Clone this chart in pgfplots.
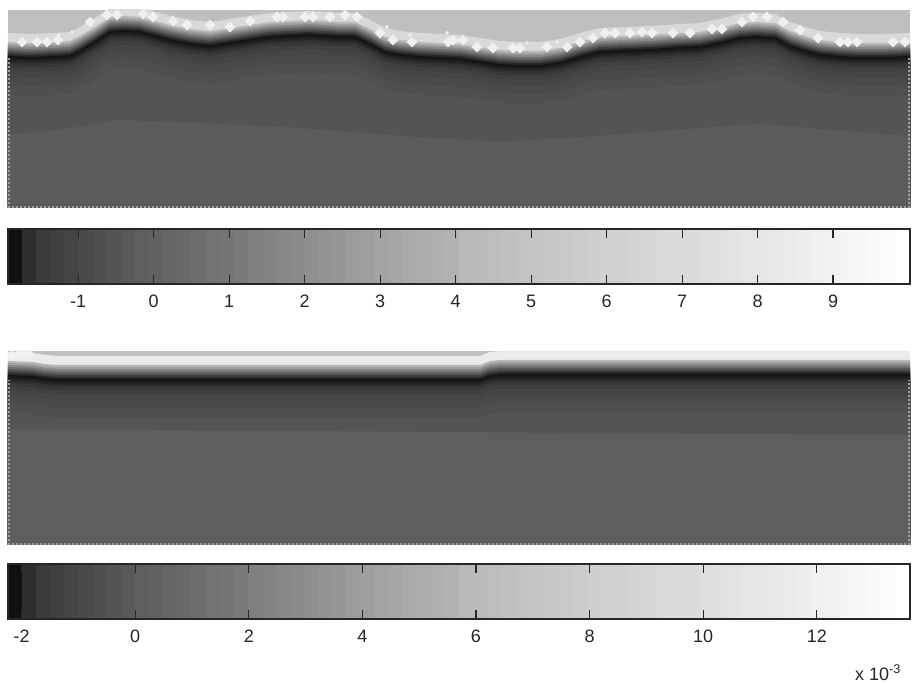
\documentclass[border=0pt]{standalone}
\usepackage{pgfplots}
\usepackage{pgfplotstable}
\usepackage{fontspec}
\setmainfont{Liberation Sans}
\pgfplotsset{compat=1.18}
% darkest ridge line of the upper field: x pixel, height above the field's bottom
\pgfplotstableread{
x R
8 151
30 150
55 151
70 152
80 157
95 166
110 176
125 177
140 176
155 172
170 168
190 164
210 162
230 165
250 168
270 171
290 172
310 173
340 171
355 171
370 164
385 156
400 153
420 151
440 150
460 149
480 146
500 143
520 142
540 142
560 145
580 151
600 156
625 157
650 158
680 160
700 161
720 165
740 170
755 171
775 170
790 162
805 157
820 153
840 151
860 150
880 150
910 151
}\ridgeA
% ridge of the lower field
\pgfplotstableread{
x R
8 169
33 168
45 166
60 165
480 165
490 169
500 170
910 170
}\ridgeB
% deep contours
\pgfplotstableread{
x R
8 73
60 78
120 88
200 85
300 80
400 72
500 66
600 72
700 80
760 84
830 78
910 72
}\deepA
\pgfplotstableread{
x R
8 116
300 114
600 112
910 110
}\deepB
% bright blobs of the upper field
\pgfplotstableread{
x h
22 166
37 166
47 166
58 168
90 186
107 193
117 193
143 194
153 191
173 187
187 183
210 183
230 181
250 187
277 191
283 191
305 191
313 191
330 191
345 193
357 191
380 175
393 168
412 166
448 166
453 168
463 168
477 161
493 160
513 160
520 160
547 161
567 161
580 166
593 170
605 175
615 175
630 175
642 176
652 175
673 175
690 175
712 179
722 179
742 186
753 191
767 191
783 186
800 178
818 170
840 166
848 166
857 166
893 166
905 166
}\blobsA
\pgfplotstableread{
x h
59 173
72 176
387 181
410 173
447 175
527 165
557 166
}\dotsA
\pgfplotstableread{
x h
12 189
18 190
24 191
30 190
}\blobsB
\newcommand\band[3]{\addplot[draw=none,fill=white!#2!black,yshift=#1pt,forget plot] table[x=x,y=R]{#3} \closedcycle;}
\newcommand\layers[2]{%
  \band{24}{#2}{#1}\band{15}{72}{#1}\band{13}{63}{#1}\band{11}{53}{#1}\band{9}{44}{#1}%
  \band{7}{35}{#1}\band{5}{26}{#1}\band{3}{16}{#1}\band{1}{8}{#1}\band{-1}{11}{#1}%
  \band{-3}{15}{#1}\band{-5}{19}{#1}\band{-7}{22}{#1}\band{-10}{25}{#1}\band{-14}{27}{#1}\band{-20}{29}{#1}\band{-28}{31}{#1}\band{-38}{33}{#1}}
% one colour step of the colour bars: index, grey percentage
\newcommand\s[2]{\addplot[draw=none,fill=white!#2!black,forget plot] coordinates {(#1,1)(64,1)} \closedcycle;}
\newcommand\steps{%
\s{0}{6}\s{1}{18}\s{2}{23}\s{3}{25}\s{4}{27}\s{5}{29}\s{6}{31}\s{7}{33}\s{8}{35}\s{9}{37}%
\s{10}{38}\s{11}{40}\s{12}{41}\s{13}{43}\s{14}{45}\s{15}{46}\s{16}{48}\s{17}{50}\s{18}{51}\s{19}{53}%
\s{20}{54}\s{21}{56}\s{22}{58}\s{23}{59}\s{24}{61}\s{25}{62}\s{26}{64}\s{27}{65}\s{28}{67}\s{29}{68}%
\s{30}{69}\s{31}{70}\s{32}{72}\s{33}{73}\s{34}{74}\s{35}{75}\s{36}{76}\s{37}{77}\s{38}{78}\s{39}{79}%
\s{40}{80}\s{41}{81}\s{42}{82}\s{43}{82}\s{44}{83}\s{45}{84}\s{46}{85}\s{47}{86}\s{48}{86}\s{49}{87}%
\s{50}{88}\s{51}{89}\s{52}{90}\s{53}{90}\s{54}{91}\s{55}{92}\s{56}{93}\s{57}{94}\s{58}{95}\s{59}{96}%
\s{60}{97}\s{61}{98}\s{62}{99}\s{63}{100}}
\pgfplotsset{
  field/.style={scale only axis,width=902pt,axis lines=none,xmin=8,xmax=910,ymin=0,
    axis background/.style={fill=white!75!black},clip=true},
  cbar/.style={scale only axis,width=902pt,height=55pt,xmin=0,xmax=64,ymin=0,ymax=1,axis lines=none},
  cticks/.style={scale only axis,width=902pt,height=55pt,ymin=0,ymax=1,ytick=\empty,
    axis line style={draw=white!15!black,line width=1.1pt},
    xtick pos=both,tick align=inside,major tick length=9pt,
    tick style={draw=white!15!black,line width=1.1pt},
    tick label style={font=\fontsize{18}{20}\selectfont,text=white!15!black},
    typeset ticklabels with strut,
    xticklabel pos=bottom,
    x tick label style={yshift=-6pt},
    /pgf/number format/assume math mode=true,
    scaled x ticks=false},
  edge/.style={draw=white!62!black,line width=1.2pt,dash pattern=on 2pt off 2pt,forget plot},
  blob/.style={only marks,mark=diamond*,mark size=5pt,color=white!94!black,
    mark options={solid,draw=white!94!black,fill=white!94!black,xscale=1.4},forget plot},
}
\begin{document}
\begin{tikzpicture}[x=1pt,y=1pt]
\path[use as bounding box] (0,0) rectangle (913,683);
% upper field
\begin{axis}[field,height=198pt,ymax=198,at={(8pt,475pt)},anchor=south west]
\layers{\ridgeA}{85}
\addplot[draw=none,fill=white!36!black,forget plot] table[x=x,y=R]{\deepA} \closedcycle;
\addplot[blob] table[x=x,y=h]{\blobsA};
\addplot[only marks,mark=*,mark size=1.5pt,color=white!94!black,mark options={solid,draw=white!94!black,fill=white!94!black},forget plot] table[x=x,y=h]{\dotsA};
\addplot[edge] coordinates {(8,1)(910,1)};
\addplot[edge] coordinates {(9,0)(9,150)};
\addplot[edge] coordinates {(909,0)(909,150)};
\end{axis}
% upper colour bar
\begin{axis}[cbar,at={(8pt,399pt)},anchor=south west]
\steps
\end{axis}
\begin{axis}[cticks,at={(8pt,399pt)},anchor=south west,xmin=-1.93,xmax=10.02,
  xtick={-1,0,1,2,3,4,5,6,7,8,9}]
\end{axis}
% lower field
\begin{axis}[field,height=194pt,ymax=194,at={(8pt,138pt)},anchor=south west]
\layers{\ridgeB}{92}
\addplot[draw=none,fill=white!37!black,forget plot] table[x=x,y=R]{\deepB} \closedcycle;
\addplot[blob] table[x=x,y=h]{\blobsB};
\addplot[edge] coordinates {(8,1)(910,1)};
\addplot[edge] coordinates {(9,0)(9,165)};
\addplot[edge] coordinates {(909,0)(909,165)};
\end{axis}
% lower colour bar
\begin{axis}[cbar,at={(8pt,64pt)},anchor=south west]
\steps
\end{axis}
\begin{axis}[cticks,at={(8pt,64pt)},anchor=south west,xmin=-2.238,xmax=13.64,
  xtick={-2,0,2,4,6,8,10,12}]
\end{axis}
\node[anchor=base east,font=\fontsize{18}{20}\selectfont,text=white!15!black,inner sep=0pt] at (901,3) {x 10\textsuperscript{-3}};
\end{tikzpicture}
\end{document}
